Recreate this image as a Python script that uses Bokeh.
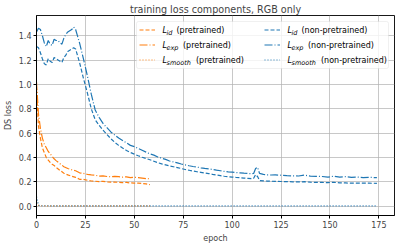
from bokeh.plotting import figure
from bokeh.models import (Range1d, FixedTicker, PrintfTickFormatter, Legend,
                          LegendItem, LabelSet, ColumnDataSource, BoxAnnotation)
from bokeh.core.properties import value
from bokeh.embed import file_html
from bokeh.resources import INLINE

# ---------------- data ----------------
ep_pre = [0, 1, 2, 3, 4, 5, 6, 7, 8, 9, 10, 12, 14, 16, 18, 20, 22, 24, 26, 28,
          30, 32, 34, 36, 38, 40, 42, 44, 46, 48, 50, 52, 54, 56, 58]
lid_pre = [0.96, 0.66, 0.56, 0.48, 0.44, 0.40, 0.38, 0.36, 0.345, 0.335, 0.32,
           0.295, 0.272, 0.258, 0.246, 0.238, 0.222, 0.222, 0.214, 0.208, 0.206,
           0.203, 0.205, 0.200, 0.198, 0.199, 0.197, 0.195, 0.196, 0.192, 0.191,
           0.190, 0.188, 0.184, 0.178]
lexp_pre = [1.02, 0.76, 0.64, 0.56, 0.51, 0.48, 0.45, 0.43, 0.41, 0.39, 0.375,
            0.35, 0.325, 0.31, 0.30, 0.292, 0.275, 0.27, 0.262, 0.258, 0.255,
            0.248, 0.25, 0.245, 0.242, 0.246, 0.243, 0.24, 0.242, 0.236, 0.238,
            0.236, 0.232, 0.228, 0.226]
ep_smooth_pre = [0, 1, 2, 10, 20, 30, 40, 50, 58]
lsmooth_pre = [0.03, 0.008, 0.005, 0.004, 0.004, 0.004, 0.004, 0.004, 0.004]

ep_np = [0, 1, 2, 3, 4, 5, 6, 7, 8, 9, 10, 11, 12, 13, 14, 15, 16, 17, 18, 19, 20,
         22, 24, 26, 28, 30, 32, 34, 36, 38, 40, 42, 44, 46, 48, 50, 52, 54, 56,
         58, 60, 62, 64, 66, 68, 70, 72, 74, 76, 78, 80, 82, 84, 86, 88, 90, 92,
         94, 96, 98, 100, 102, 104, 106, 108, 110,
         111, 112, 113, 114, 116, 118, 120, 122,
         125, 128, 131, 134, 137, 140, 143, 146, 149, 152, 155, 158, 161, 164,
         167, 170, 174]
lexp_np = [1.43, 1.46, 1.45, 1.40, 1.34, 1.31, 1.36, 1.33, 1.32, 1.37, 1.36, 1.36,
           1.34, 1.33, 1.38, 1.41, 1.43, 1.44, 1.45, 1.47, 1.45,
           1.34, 1.21, 1.07, 0.92, 0.79, 0.73, 0.68, 0.645, 0.61, 0.585,
           0.56, 0.54, 0.52, 0.50, 0.49, 0.475, 0.46, 0.445, 0.43, 0.42,
           0.405, 0.395, 0.385, 0.372, 0.364, 0.356, 0.347, 0.34, 0.333, 0.327,
           0.322, 0.316, 0.311, 0.307, 0.303, 0.297, 0.292, 0.287, 0.283, 0.28,
           0.277, 0.275, 0.272, 0.27, 0.268,
           0.27, 0.31, 0.32, 0.27, 0.262, 0.258, 0.257, 0.258,
           0.255, 0.252, 0.25, 0.249, 0.256, 0.248, 0.246, 0.245, 0.24, 0.247,
           0.24, 0.243, 0.238, 0.24, 0.236, 0.238, 0.235]
lid_np = [1.31, 1.30, 1.26, 1.21, 1.17, 1.16, 1.21, 1.19, 1.18, 1.22, 1.21, 1.20,
          1.19, 1.18, 1.22, 1.24, 1.27, 1.28, 1.29, 1.30, 1.29,
          1.18, 1.05, 0.93, 0.80, 0.71, 0.665, 0.625, 0.59, 0.555, 0.525,
          0.50, 0.478, 0.458, 0.442, 0.428, 0.415, 0.403, 0.393, 0.382, 0.37,
          0.358, 0.348, 0.34, 0.332, 0.325, 0.318, 0.31, 0.302, 0.296, 0.29,
          0.284, 0.279, 0.274, 0.269, 0.262, 0.257, 0.252, 0.247, 0.243, 0.24,
          0.237, 0.235, 0.232, 0.23, 0.228,
          0.23, 0.26, 0.245, 0.212, 0.209, 0.207, 0.206, 0.205,
          0.204, 0.203, 0.201, 0.2, 0.202, 0.198, 0.197, 0.196, 0.195, 0.197,
          0.193, 0.192, 0.19, 0.191, 0.19, 0.19, 0.189]
ep_smooth_np = [0, 1, 2, 20, 40, 60, 80, 100, 120, 140, 160, 174]
lsmooth_np = [0.08, 0.01, 0.005, 0.004, 0.004, 0.004, 0.004, 0.004, 0.004,
              0.004, 0.004, 0.004]

x_ticks = [0, 25, 50, 75, 100, 125, 150, 175]
y_ticks = [0.0, 0.2, 0.4, 0.6, 0.8, 1.0, 1.2, 1.4]

title_text = "training loss components, RGB only"
x_label = "epoch"
y_label = "DS loss"
sub_names = ["id", "exp", "smooth"]
groups = ["(pretrained)", "(non-pretrained)"]

# ---------------- styling ----------------
ORANGE = "#ff7f0e"
BLUE = "#1f77b4"
FONT = "DejaVu Sans"
DASHES = ["4 2", "8 2 1 2", "1 2"]
FW, FH = 358, 200

p = figure(frame_width=FW, frame_height=FH, output_backend="svg",
           toolbar_location=None, x_range=Range1d(0, 183),
           y_range=Range1d(-0.075, 1.565), title=title_text,
           min_border_left=0, min_border_right=4, min_border_top=0,
           min_border_bottom=0)
p.background_fill_color = "white"
p.border_fill_color = "white"
p.outline_line_color = "black"
p.outline_line_alpha = 0.9

p.title.text_font = FONT
p.title.text_font_size = "9.6px"
p.title.text_font_style = "normal"
p.title.align = "center"
p.title.standoff = 2

for ax in (p.xaxis[0], p.yaxis[0]):
    ax.major_label_text_font = FONT
    ax.major_label_text_font_size = "8px"
    ax.axis_label_text_font = FONT
    ax.axis_label_text_font_size = "8px"
    ax.axis_label_text_font_style = "normal"
    ax.major_tick_in = 0
    ax.major_tick_out = 3
    ax.minor_tick_line_color = None
    ax.major_label_standoff = 2
    ax.axis_label_standoff = 3
    ax.axis_line_color = "black"
p.xaxis.axis_label = x_label
p.yaxis.axis_label = y_label
p.xaxis.ticker = FixedTicker(ticks=x_ticks)
p.yaxis.ticker = FixedTicker(ticks=y_ticks)
p.yaxis.formatter = PrintfTickFormatter(format="%.1f")
for g in (p.xgrid[0], p.ygrid[0]):
    g.grid_line_color = "#b0b0b0"
    g.grid_line_alpha = 0.7
    g.grid_line_width = 1

W = 1.2
r_id_pre = p.line(ep_pre, lid_pre, line_color=ORANGE, line_dash=DASHES[0], line_width=W)
r_exp_pre = p.line(ep_pre, lexp_pre, line_color=ORANGE, line_dash=DASHES[1], line_width=W)
r_sm_pre = p.line(ep_smooth_pre, lsmooth_pre, line_color=ORANGE, line_dash=DASHES[2], line_width=W)
r_id_np = p.line(ep_np, lid_np, line_color=BLUE, line_dash=DASHES[0], line_width=W)
r_exp_np = p.line(ep_np, lexp_np, line_color=BLUE, line_dash=DASHES[1], line_width=W)
r_sm_np = p.line(ep_smooth_np, lsmooth_np, line_color=BLUE, line_dash=DASHES[2], line_width=W)

renderers = [r_id_pre, r_exp_pre, r_sm_pre, r_id_np, r_exp_np, r_sm_np]

PAD, SPACING, GW, GH, LW, STANDOFF, MARGIN = 3, 4, 16, 11, 98, 7, 6
item_w = GW + STANDOFF + LW
box_w = 2 * PAD + 2 * item_w + SPACING
box_h = 2 * PAD + 3 * GH + 2 * SPACING
x_left = FW - MARGIN - box_w

# legend background box (drawn beneath the legend samples and texts)
p.add_layout(BoxAnnotation(left=x_left, right=x_left + box_w,
                           bottom=FH - MARGIN - box_h, top=FH - MARGIN,
                           left_units="screen", right_units="screen",
                           bottom_units="screen", top_units="screen",
                           fill_color="white", fill_alpha=0.8,
                           line_color="#cccccc", line_width=1,
                           border_radius=2, level="annotation"))

items = [LegendItem(label=value(" "), renderers=[r]) for r in renderers]
legend = Legend(items=items, location="top_right", ncols=2,
                padding=PAD, spacing=SPACING, margin=MARGIN,
                glyph_width=GW, glyph_height=GH, label_height=GH,
                label_width=LW, label_standoff=STANDOFF,
                label_text_font_size="8px", label_text_font=FONT,
                border_line_alpha=0, background_fill_alpha=0)
p.add_layout(legend)

# legend texts (italic L with subscript + group name)
suffix_offsets = [14, 20.5, 33.5]
Lx, Ly, Sx, Sy, St, Gx, Gt = [], [], [], [], [], [], []
for c, grp in enumerate(groups):
    for r, sub in enumerate(sub_names):
        x0 = x_left + PAD + GW + STANDOFF + c * (item_w + SPACING)
        yc = FH - MARGIN - PAD - GH / 2 - r * (GH + SPACING)
        Lx.append(x0); Ly.append(yc)
        Sx.append(x0 + 4); Sy.append(yc - 2.5); St.append(sub)
        Gx.append(x0 + suffix_offsets[r]); Gt.append(grp)

src_L = ColumnDataSource(dict(x=Lx, y=Ly, t=["L"] * len(Lx)))
src_S = ColumnDataSource(dict(x=Sx, y=Sy, t=St))
src_G = ColumnDataSource(dict(x=Gx, y=Ly, t=Gt))
p.add_layout(LabelSet(x="x", y="y", text="t", source=src_L, x_units="screen",
                      y_units="screen", text_font=value(FONT), text_font_size="8px",
                      text_font_style="italic", text_baseline="middle",
                      text_color="black", level="overlay"))
p.add_layout(LabelSet(x="x", y="y", text="t", source=src_S, x_units="screen",
                      y_units="screen", text_font=value(FONT), text_font_size="6.5px",
                      text_font_style="italic", text_baseline="middle",
                      text_color="black", level="overlay"))
p.add_layout(LabelSet(x="x", y="y", text="t", source=src_G, x_units="screen",
                      y_units="screen", text_font=value(FONT), text_font_size="8px",
                      text_baseline="middle", text_color="black", level="overlay"))

open("out.html", "w").write(file_html(p, INLINE))
